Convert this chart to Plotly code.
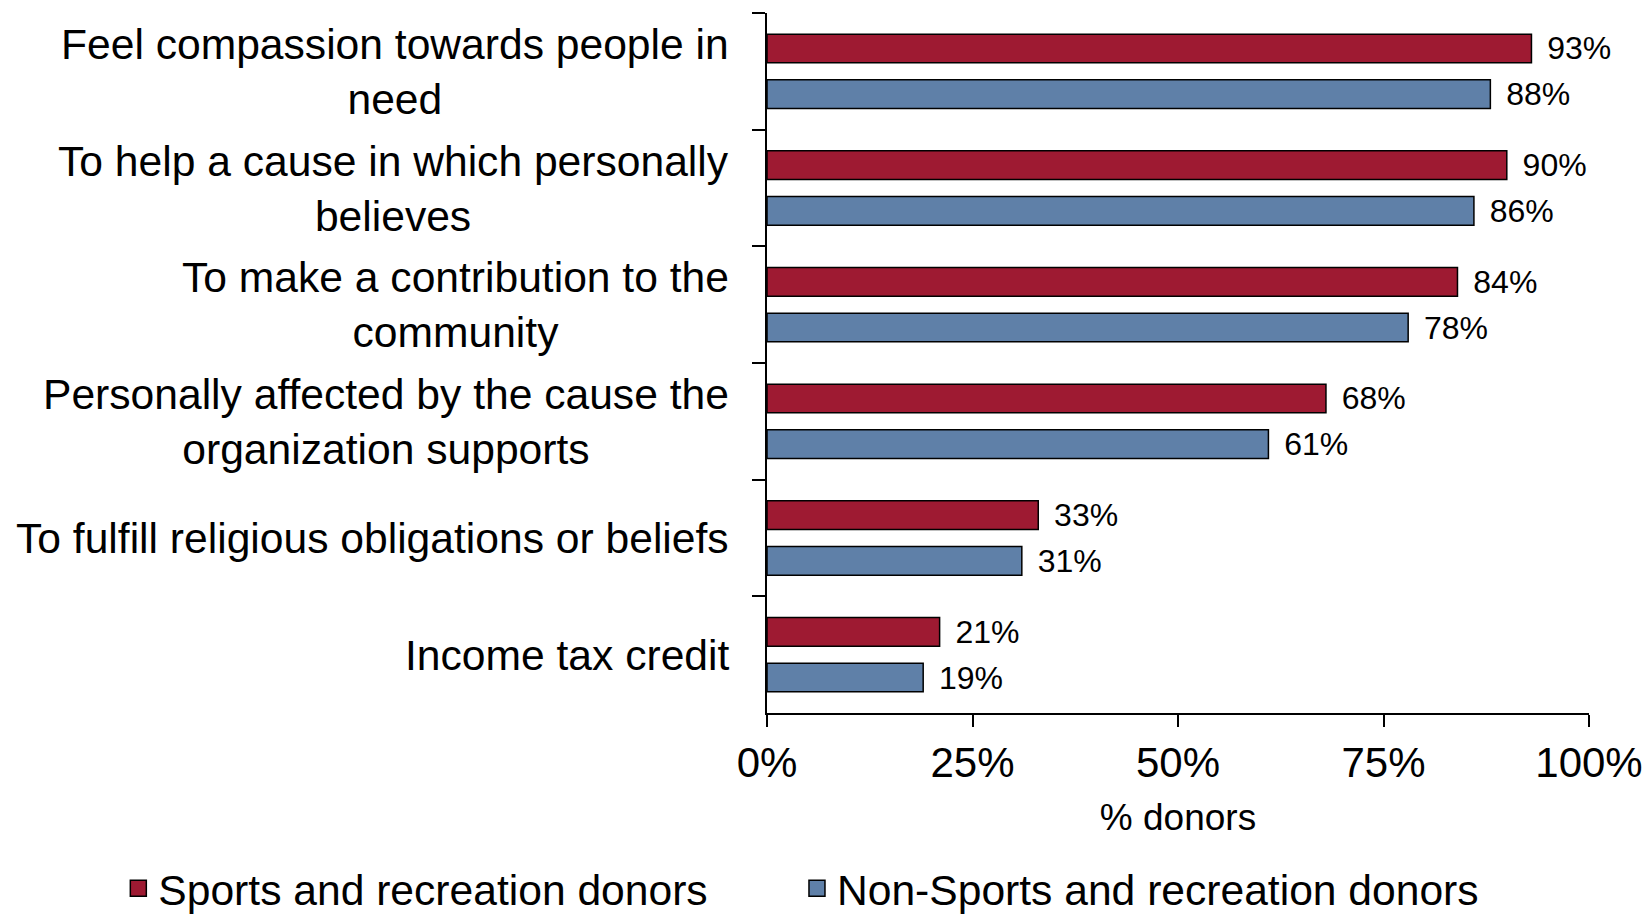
import plotly.graph_objects as go

# Reasons for giving, share of donors (%)
categories = [
    "Feel compassion towards people in<br>need",
    "To help a cause in which personally<br>believes",
    "To make a contribution to the<br>community",
    "Personally affected by the cause the<br>organization supports",
    "To fulfill religious obligations or beliefs",
    "Income tax credit",
]
sports_donors = [93, 90, 84, 68, 33, 21]
non_sports_donors = [88, 86, 78, 61, 31, 19]
series_names = ["Sports and recreation donors", "Non-Sports and recreation donors"]
x_ticks = [0, 25, 50, 75, 100]
x_tick_labels = ["0%", "25%", "50%", "75%", "100%"]

RED = "#9E1A32"
BLUE = "#5F80A8"
FONT = "Liberation Sans, Arial, sans-serif"
GAP = "\u2009\u2009"

fig = go.Figure()
series = [
    (series_names[0], sports_donors, RED, "legend"),
    (series_names[1], non_sports_donors, BLUE, "legend2"),
]
for name, vals, color, leg in series:
    fig.add_trace(go.Bar(
        x=vals, y=categories, orientation="h", name=name,
        marker=dict(color=color, line=dict(color="black", width=1.5)),
        text=[f"{GAP}{v}%" for v in vals], textposition="outside",
        constraintext="none", cliponaxis=False,
        textfont=dict(family=FONT, size=32, color="black"),
        showlegend=False, hoverinfo="skip",
    ))
    # legend entry with a larger square swatch
    fig.add_trace(go.Scatter(
        x=[None], y=[None], mode="markers", name=name, legend=leg,
        marker=dict(symbol="square", size=16, color=color,
                    line=dict(color="black", width=1.5)),
        showlegend=True,
    ))

# Centered, right-aligned category labels
for cat in categories:
    fig.add_annotation(
        x=0, xref="paper", y=cat, yref="y", text=cat,
        xanchor="right", yanchor="middle", xshift=-36, align="center",
        showarrow=False, font=dict(family=FONT, size=42.6, color="black"),
    )

legend_style = dict(
    orientation="h", xref="container", yref="container",
    y=0.03, xanchor="left", yanchor="middle",
    font=dict(family=FONT, size=42.6, color="black"),
    itemclick=False, itemdoubleclick=False, bgcolor="rgba(0,0,0,0)",
)

fig.update_layout(
    width=1648, height=916,
    margin=dict(l=767, r=59, t=13, b=203, autoexpand=False),
    paper_bgcolor="white", plot_bgcolor="white",
    barmode="group", bargap=0.217, bargroupgap=0.372,
    font=dict(family=FONT, color="black"),
    legend=dict(x=0.0718, **legend_style),
    legend2=dict(x=0.4836, **legend_style),
    xaxis=dict(
        range=[0, 100], tickvals=x_ticks, ticktext=x_tick_labels,
        showline=True, linecolor="black", linewidth=1.5,
        ticks="outside", ticklen=12, tickwidth=1.5, tickcolor="black",
        showgrid=False, zeroline=False, automargin=False,
        tickfont=dict(family=FONT, size=42, color="black"),
        title=dict(text="% donors", font=dict(family=FONT, size=37, color="black"), standoff=19),
    ),
    yaxis=dict(
        autorange="reversed", showticklabels=False, automargin=False,
        showline=True, linecolor="black", linewidth=1.5,
        ticks="outside", tickson="boundaries", ticklen=13, tickwidth=1.5, tickcolor="black",
        showgrid=False, zeroline=False,
    ),
)

fig.write_html("out.html")
